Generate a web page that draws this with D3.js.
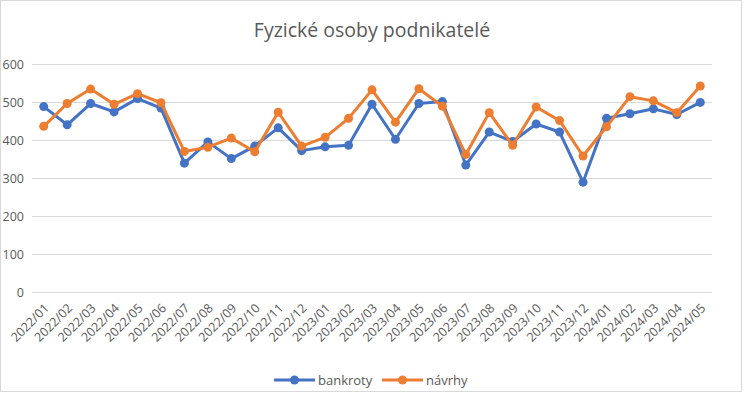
<!DOCTYPE html>
<html>
<head>
<meta charset="utf-8">
<script src="https://cdn.jsdelivr.net/npm/d3@7"></script>
<style>
  body { margin: 0; background: #fff; }
  text { font-family: "Open Sans", sans-serif; fill: #595959; }
</style>
</head>
<body>
<div id="chart"></div>
<script>
// data
var months = ["2022/01","2022/02","2022/03","2022/04","2022/05","2022/06","2022/07","2022/08","2022/09","2022/10","2022/11","2022/12",
  "2023/01","2023/02","2023/03","2023/04","2023/05","2023/06","2023/07","2023/08","2023/09","2023/10","2023/11","2023/12",
  "2024/01","2024/02","2024/03","2024/04","2024/05"];
var bankroty = [488,440,496,474,509,484,339,395,351,384,432,372,382,386,494,402,496,501,334,421,396,442,421,289,457,469,482,467,499];
var navrhy = [436,496,534,494,522,498,370,381,405,369,473,384,407,457,532,447,535,489,362,472,386,487,451,358,435,514,503,472,542];
var yTicks = [0,100,200,300,400,500,600];

var svgWidth = 745;
var svgHeight = 393;
var margin = { top: 64, right: 33, bottom: 101, left: 32 };
var chartWidth = svgWidth - margin.left - margin.right;
var chartHeight = svgHeight - margin.top - margin.bottom;

var svg = d3.select("#chart")
  .append("svg")
  .attr("width", svgWidth)
  .attr("height", svgHeight);

// chart border
svg.append("rect")
  .attr("x", 0.5).attr("y", 0.5)
  .attr("width", svgWidth - 4).attr("height", svgHeight - 2)
  .attr("fill", "#fff")
  .attr("stroke", "#d9d9d9");

svg.append("text")
  .attr("x", 372)
  .attr("y", 37)
  .attr("text-anchor", "middle")
  .attr("font-size", "19.5px")
  .text("Fyzické osoby podnikatelé");

var chartGroup = svg.append("g")
  .attr("transform", `translate(${margin.left}, ${margin.top})`);

var xScale = d3.scaleBand()
  .domain(months)
  .range([0, chartWidth]);

var yScale = d3.scaleLinear()
  .domain([0, 600])
  .range([chartHeight, 0]);

// gridlines + y labels
var yAxis = d3.axisLeft(yScale)
  .tickValues(yTicks)
  .tickSize(-chartWidth)
  .tickPadding(8);

var yG = chartGroup.append("g").call(yAxis);
yG.select(".domain").remove();
yG.selectAll(".tick line").attr("stroke", "#d9d9d9");
yG.selectAll(".tick text").attr("font-size", "12.5px").attr("fill", "#595959");

// x axis labels, rotated
var xAxis = d3.axisBottom(xScale).tickSize(0).tickPadding(0);
var xG = chartGroup.append("g")
  .attr("transform", `translate(0, ${chartHeight})`)
  .call(xAxis);
xG.select(".domain").remove();
xG.selectAll(".tick text")
  .attr("font-size", "12.5px")
  .attr("fill", "#595959")
  .attr("text-anchor", "end")
  .attr("dy", null)
  .attr("transform", "translate(6, 17) rotate(-45)");

var series = [
  { name: "bankroty", values: bankroty, color: "#4472C4" },
  { name: "návrhy", values: navrhy, color: "#ED7D31" }
];

var line = d3.line()
  .x((d, i) => xScale(months[i]) + xScale.bandwidth() / 2)
  .y(d => yScale(d));

series.forEach(function(s) {
  chartGroup.append("path")
    .datum(s.values)
    .attr("d", line)
    .attr("fill", "none")
    .attr("stroke", s.color)
    .attr("stroke-width", 3)
    .attr("stroke-linejoin", "round");

  chartGroup.selectAll(null)
    .data(s.values)
    .enter()
    .append("circle")
    .attr("cx", (d, i) => xScale(months[i]) + xScale.bandwidth() / 2)
    .attr("cy", d => yScale(d))
    .attr("r", 4.5)
    .attr("fill", s.color);
});

// legend
var legendX = [274, 382];
var legend = svg.selectAll(".legend")
  .data(series)
  .enter()
  .append("g")
  .attr("transform", (d, i) => `translate(${legendX[i]}, 380)`);

legend.append("line")
  .attr("x1", 0).attr("x2", 41)
  .attr("stroke", d => d.color)
  .attr("stroke-width", 3);
legend.append("circle")
  .attr("cx", 20.5).attr("r", 4.5)
  .attr("fill", d => d.color);
legend.append("text")
  .attr("x", 44)
  .attr("y", 4.5)
  .attr("font-size", "13px")
  .text(d => d.name);
</script>
</body>
</html>
